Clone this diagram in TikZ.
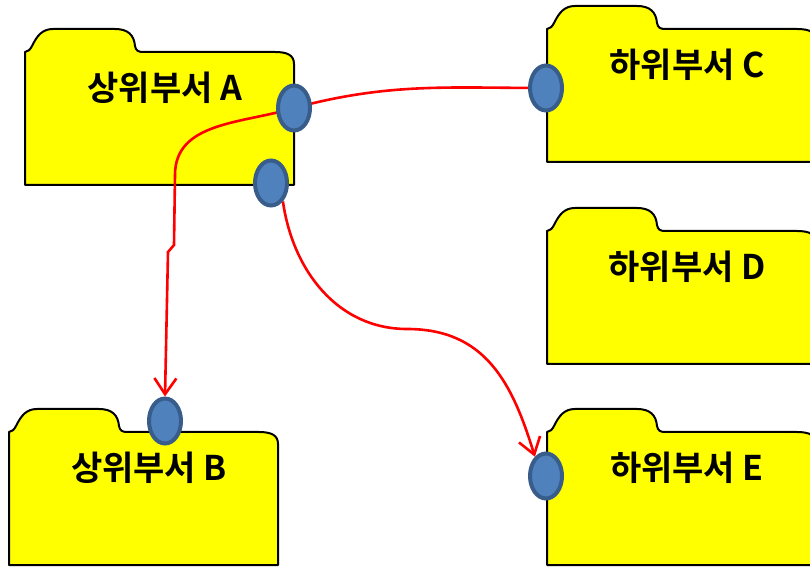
\documentclass[tikz,border=0pt]{standalone}
\usepackage{fontspec}
\newfontfamily\deptfont{Noto Sans CJK KR Bold}
\usetikzlibrary{shapes.geometric, arrows.meta}
\pgfdeclarelayer{folders}
\pgfdeclarelayer{links}
\pgfsetlayers{folders,links,main}
\definecolor{fyellow}{HTML}{FFFF00}
\definecolor{pblue}{HTML}{4F81BD}
\definecolor{pedge}{HTML}{385D8A}
\definecolor{lred}{HTML}{FF0000}
\tikzstyle{folder} = [draw=black, line width=2pt, fill=fyellow, line join=round]
\tikzstyle{port} = [ellipse, draw=pedge, line width=4pt, fill=pblue, minimum width=32pt, minimum height=45pt, inner sep=0pt]
\tikzstyle{link} = [draw=lred, line width=2.6pt]
\tikzstyle{arrow} = [link, -{Straight Barb[length=16pt, width=22pt]}]
\tikzstyle{dept} = [font=\deptfont\fontsize{34}{38}\selectfont, inner sep=0pt]
%% folder body with its lower left corner at #1,#2, label #4 named #3
\newcommand{\folderat}[4]{%
\path[folder, shift={(#1,#2)}] (0,0) -- (0,133)
  .. controls (3,133.5) and (5,135) .. (7,139)
  .. controls (12,149) and (17,156) .. (28,156) -- (90,156)
  .. controls (103,156) and (109,150) .. (110,139)
  .. controls (111,134.5) and (113,133) .. (118,133) -- (250,133)
  .. controls (262,133) and (269,130) .. (269,121) -- (269,0) -- cycle;
\node[dept] (#3) at (#1+140, #2+97) {#4};}

\begin{document}
\begin{tikzpicture}[x=1pt, y=1pt]
\useasboundingbox (0,0) rectangle (810,567);

%% departments
\begin{pgfonlayer}{folders}
\folderat{25}{382}{deptA}{상위부서 A}
\folderat{9}{2}{deptB}{상위부서 B}
\folderat{547}{405}{deptC}{하위부서 C}
\folderat{547}{203}{deptD}{하위부서 D}
\folderat{547}{2}{deptE}{하위부서 E}
\end{pgfonlayer}

%% ports
\node[port] (portA1) at (294,459) {};
\node[port] (portA2) at (271,384) {};
\node[port] (portC) at (546,479) {};
\node[port] (portB) at (165,146) {};
\node[port] (portE) at (546,91) {};

% links
\coordinate (turnB) at (175,392);
\coordinate (kinkB1) at (174,322);
\coordinate (kinkB2) at (168,315);
\coordinate (midE) at (407,238);

\begin{pgfonlayer}{links}
\path[link] (portA1.center) to[out=15, in=180] (portC.center);
\path[arrow] (portA1.center) to[out=197, in=90] (turnB) -- (kinkB1) -- (kinkB2) -- (portB.north);
\path[arrow] (portA2.-57) to[out=-82, in=180] (midE) to[out=0, in=107, looseness=1.1] (portE.120);
\end{pgfonlayer}
\end{tikzpicture}
\end{document}
